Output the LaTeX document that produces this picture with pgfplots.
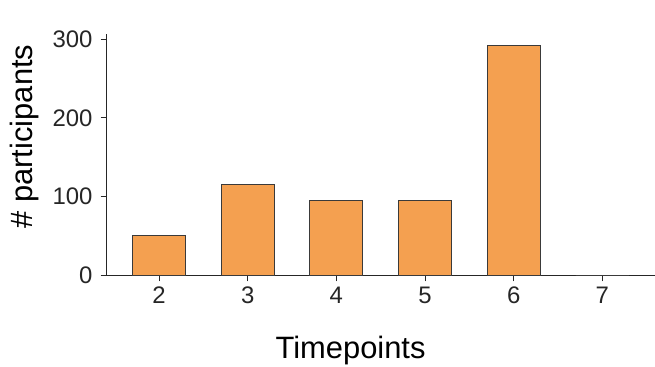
\documentclass[border=0pt]{standalone}
\usepackage{fontspec}
\setmainfont{Liberation Sans}
\usepackage{pgfplots}
\pgfplotsset{compat=1.18}
\definecolor{barorange}{HTML}{F4A050}
\definecolor{spine}{HTML}{262626}
\definecolor{baredge}{HTML}{3A3A3A}
\begin{document}
\begin{tikzpicture}
\begin{axis}[
  name=ax,
  scale only axis,
  width=548bp, height=241.3bp,
  xmin=1.41, xmax=7.59, ymin=0, ymax=306.7,
  axis x line*=bottom, axis y line*=left,
  axis line style={spine, line width=1.4bp, -},
  xtick={2,3,4,5,6,7}, ytick={0,100,200,300},
  tick style={spine, line width=1bp},
  tick align=outside, major tick length=6bp,
  /pgf/number format/assume math mode=true,
  ticklabel style={font=\fontsize{24}{28}\selectfont, text=spine},
  xticklabel style={anchor=base, yshift=-22bp},
  yticklabel style={anchor=east, inner sep=0pt, xshift=-8bp},
  xlabel={Timepoints},
  ylabel={\# participants},
  xlabel style={at={(axis description cs:0.445,-0.344)}, anchor=base, font=\fontsize{31}{35}\selectfont, text=black},
  ylabel style={at={(axis description cs:-0.135,0.575)}, anchor=base, font=\fontsize{31}{35}\selectfont, text=black},
]
\addplot[ybar, bar width=0.6, fill=barorange, draw=baredge, line width=1bp]
  coordinates {(2,50) (3,115) (4,94.5) (5,94.5) (6,292) (7,0)};
\end{axis}
\pgfresetboundingbox
\path[use as bounding box] (ax.south west) ++(-106.7bp,-91.7bp) rectangle ++(655bp,367bp);
\end{tikzpicture}
\end{document}
